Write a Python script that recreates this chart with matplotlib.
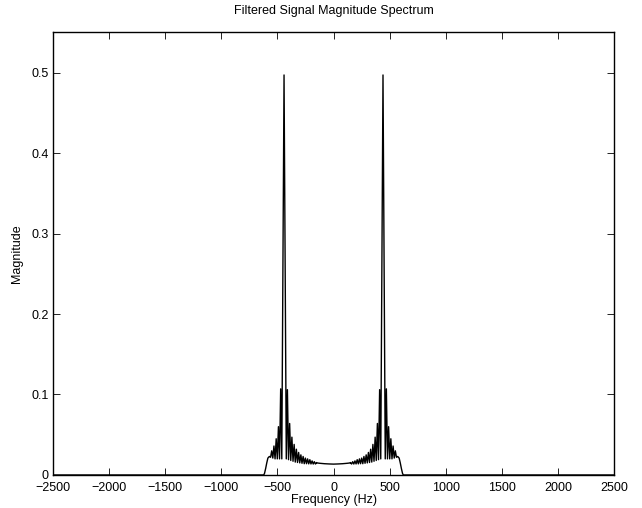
import numpy as np
import matplotlib
matplotlib.use("Agg")
import matplotlib.pyplot as plt

# spectrum values (positive half, it is symmetric)
center_freq = [0, 40, 80, 120, 150]
center_mag = [0.0135, 0.0137, 0.0140, 0.0145, 0.0150]

# sidelobes between the centre and the tone (peak / null pairs)
inner_peak_freq = [151, 171, 191, 211, 231, 251, 271, 291, 311, 331, 351, 371, 391, 411]
inner_peak_mag = [0.0155, 0.0165, 0.0175, 0.019, 0.020, 0.021, 0.023, 0.025, 0.028, 0.032,
                  0.038, 0.047, 0.064, 0.106]
inner_null_freq = [161, 181, 201, 221, 241, 261, 281, 301, 321, 341, 361, 381, 401, 421]
inner_null_mag = [0.0136, 0.0136, 0.0137, 0.0138, 0.0140, 0.0140, 0.0145, 0.0150, 0.0155,
                  0.0160, 0.0170, 0.0180, 0.0190, 0.0200]

tone_freq = 441
tone_mag = 0.497

# sidelobes outside the tone, up to the filter edge
outer_null_freq = [461, 481, 501, 521, 541, 561]
outer_null_mag = [0.020, 0.020, 0.020, 0.020, 0.021, 0.022]
outer_peak_freq = [471, 491, 511, 531, 551]
outer_peak_mag = [0.107, 0.060, 0.045, 0.036, 0.030]

# filter roll-off
edge_freq = [572, 585, 595, 605, 615, 622, 2500]
edge_mag = [0.023, 0.021, 0.015, 0.008, 0.002, 0.0, 0.0]

x_ticks = [-2500, -2000, -1500, -1000, -500, 0, 500, 1000, 1500, 2000, 2500]
y_ticks = [0, 0.1, 0.2, 0.3, 0.4, 0.5]
y_tick_labels = ["0", "0.1", "0.2", "0.3", "0.4", "0.5"]

# assemble the positive half in frequency order
pts = list(zip(center_freq, center_mag))
pts += list(zip(inner_peak_freq, inner_peak_mag))
pts += list(zip(inner_null_freq, inner_null_mag))
pts.append((tone_freq, tone_mag))
pts += list(zip(outer_null_freq, outer_null_mag))
pts += list(zip(outer_peak_freq, outer_peak_mag))
pts += list(zip(edge_freq, edge_mag))
pts.sort()
f_pos = np.array([p[0] for p in pts], dtype=float)
m_pos = np.array([p[1] for p in pts], dtype=float)

# mirror for the negative frequencies
freq = np.concatenate([-f_pos[:0:-1], f_pos])
mag = np.concatenate([m_pos[:0:-1], m_pos])

plt.rcParams['font.family'] = ['Liberation Sans', 'DejaVu Sans']

fig = plt.figure(figsize=(6.42, 5.08), dpi=100)
ax = fig.add_axes([0.0826, 0.065, 0.8738, 0.8714])
ax.plot(freq, mag, color='black', linewidth=1.0)

ax.set_xlim(-2500, 2500)
ax.set_ylim(0, 0.55)
ax.set_xticks(x_ticks)
ax.set_yticks(y_ticks)
ax.set_yticklabels(y_tick_labels)
ax.tick_params(direction='in', length=5, width=0.6, labelsize=9,
               top=True, right=True, pad=3)
ax.tick_params(axis='x', pad=5)
for s in ax.spines.values():
    s.set_linewidth(1.0)

ax.set_title('Filtered Signal Magnitude Spectrum', fontsize=9, pad=13)
ax.set_xlabel('Frequency (Hz)', fontsize=9, labelpad=0)
ax.set_ylabel('Magnitude', fontsize=9, labelpad=6)

fig.savefig('out.png', dpi=100)
